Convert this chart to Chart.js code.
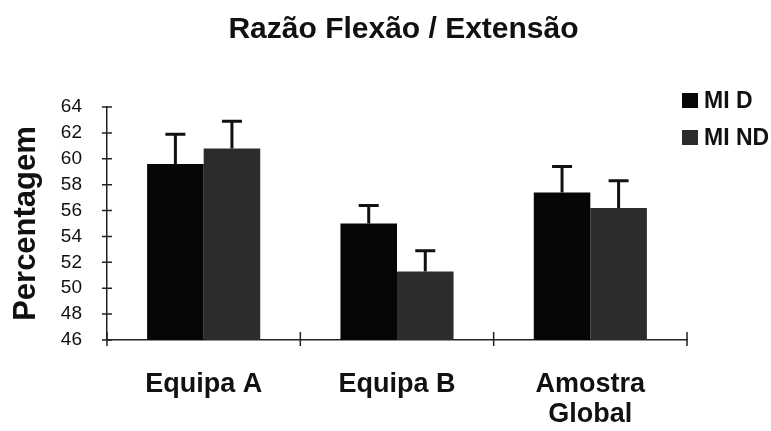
<!DOCTYPE html>
<html>
<head>
<meta charset="utf-8">
<script src="https://cdn.jsdelivr.net/npm/chart.js@4.4.1/dist/chart.umd.min.js"></script>
<style>
  body { margin: 0; background: #fff; }
  #wrap { position: relative; width: 771px; height: 431px; }
  #legend { position: absolute; left: 682px; top: 86px; font: bold 23px "Liberation Sans", Arial, sans-serif; color: #111; }
  #legend .row { display: flex; align-items: center; height: 28px; margin-bottom: 9px; white-space: nowrap; }
  #legend .sw { width: 16px; height: 15px; margin-right: 6px; }
</style>
</head>
<body>
<div id="wrap">
  <canvas id="chart" width="771" height="431"></canvas>
  <div id="legend"></div>
</div>
<script>
// categorias e séries
const categories = ['Equipa A', 'Equipa B', ['Amostra', 'Global']];
const seriesNames = ['MI D', 'MI ND'];
const miD = [59.6, 55.0, 57.4];
const miND = [60.8, 51.3, 56.2];
const miDErr = [2.3, 1.4, 2.0];
const miNDErr = [2.1, 1.6, 2.1];
const yTicks = [46, 48, 50, 52, 54, 56, 58, 60, 62, 64];

const colors = ['#060606', '#2c2c2c'];
const errors = [miDErr, miNDErr];
const FONT = '"Liberation Sans", Arial, sans-serif';

// barras de erro (só para cima) + marcas dos eixos que cruzam a linha
const errorBars = {
    id: 'errorBars',
    afterLayout(chart) {
        // o título fica centrado sobre a área do gráfico, não sobre o canvas
        if (chart.titleBlock) {
            chart.titleBlock.left += 60;
            chart.titleBlock.right += 60;
        }
    },
    afterDatasetsDraw(chart) {
        const { ctx, chartArea: a, scales: { x, y } } = chart;
        ctx.save();
        ctx.strokeStyle = '#111';
        ctx.lineWidth = 3;
        chart.data.datasets.forEach((ds, di) => {
            const meta = chart.getDatasetMeta(di);
            meta.data.forEach((bar, i) => {
                const top = y.getPixelForValue(ds.data[i] + errors[di][i]);
                ctx.beginPath();
                ctx.moveTo(bar.x, bar.y);
                ctx.lineTo(bar.x, top);
                ctx.moveTo(bar.x - 10, top);
                ctx.lineTo(bar.x + 10, top);
                ctx.stroke();
            });
        });

        ctx.strokeStyle = '#222';
        ctx.lineWidth = 1.5;
        ctx.beginPath();
        yTicks.forEach(v => {
            const py = y.getPixelForValue(v);
            ctx.moveTo(a.left - 5, py);
            ctx.lineTo(a.left + 5, py);
        });
        for (let i = 0; i <= categories.length; i++) {
            const px = x.getPixelForValue(i - 0.5);
            ctx.moveTo(px, a.bottom - 8);
            ctx.lineTo(px, a.bottom + 6);
        }
        ctx.stroke();
        ctx.restore();
    }
};

new Chart(document.getElementById('chart'), {
    type: 'bar',
    data: {
        labels: categories,
        datasets: [
            { label: seriesNames[0], data: miD, backgroundColor: colors[0] },
            { label: seriesNames[1], data: miND, backgroundColor: colors[1] }
        ]
    },
    options: {
        responsive: false,
        animation: false,
        devicePixelRatio: 1,
        layout: { padding: { right: 84, bottom: 0 } },
        datasets: { bar: { categoryPercentage: 0.585, barPercentage: 1 } },
        plugins: {
            legend: { display: false },
            tooltip: { enabled: false },
            title: {
                display: true,
                text: 'Razão Flexão / Extensão',
                color: '#111',
                font: { family: FONT, size: 30, weight: 'bold' },
                padding: { top: 12, bottom: 59 }
            }
        },
        scales: {
            x: {
                grid: { display: false, drawTicks: false },
                border: { display: true, color: '#222', width: 1.5 },
                ticks: { color: '#111', padding: 30, font: { family: FONT, size: 27, weight: 'bold', lineHeight: 1.1 } },
                afterFit: s => { s.height = 91; }
            },
            y: {
                min: 46,
                max: 64,
                afterBuildTicks: s => { s.ticks = yTicks.map(v => ({ value: v })); },
                grid: { display: false, drawTicks: false },
                border: { display: true, color: '#222', width: 1.5 },
                ticks: { color: '#111', padding: 25, font: { family: FONT, size: 19 } },
                title: {
                    display: true,
                    text: 'Percentagem',
                    color: '#111',
                    font: { family: FONT, size: 31, weight: 'bold' },
                    padding: { top: 8, bottom: 0 }
                },
                afterFit: s => { s.width = 107; }
            }
        }
    },
    plugins: [errorBars]
});

// legenda em HTML, a partir das mesmas séries
const legend = document.getElementById('legend');
seriesNames.forEach((name, i) => {
    const row = document.createElement('div');
    row.className = 'row';
    row.innerHTML = '<span class="sw" style="background:' + colors[i] + '"></span><span>' + name + '</span>';
    legend.appendChild(row);
});
</script>
</body>
</html>
